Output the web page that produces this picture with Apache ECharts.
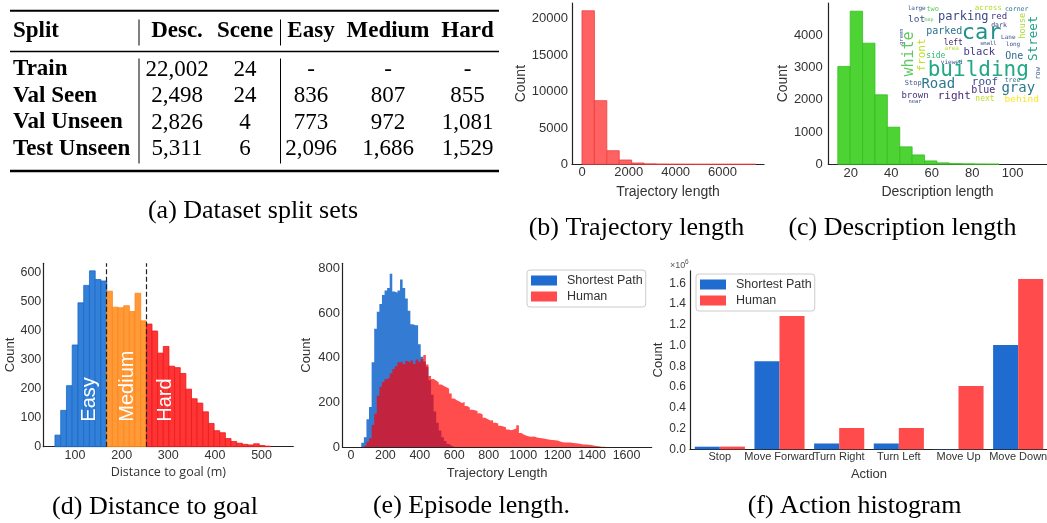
<!DOCTYPE html>
<html>
<head>
<meta charset="utf-8">
<script src="https://cdn.jsdelivr.net/npm/echarts@6/dist/echarts.min.js"></script>
<style>
  html, body { margin: 0; padding: 0; background: #fff; }
  #chart { width: 1047px; height: 523px; }
</style>
</head>
<body>
<div id="chart"></div>
<script>
// (a) dataset split sets
const tableHeader = ['Split', 'Desc.', 'Scene', 'Easy', 'Medium', 'Hard'];
const tableRows = [
  ['Train', '22,002', '24', '-', '-', '-'],
  ['Val Seen', '2,498', '24', '836', '807', '855'],
  ['Val Unseen', '2,826', '4', '773', '972', '1,081'],
  ['Test Unseen', '5,311', '6', '2,096', '1,686', '1,529']
];

// (b) trajectory length
const trajBinStart = 0;
const trajBinWidth = 530;
const trajCounts = [21100, 8750, 1870, 590, 180, 60, 25, 12, 8, 5, 3, 2, 1, 1];
const trajTicks = [0, 2000, 4000, 6000];
const trajCountTicks = [0, 5000, 10000, 15000, 20000];

// (c) description length
const descBinStart = 13.6;
const descBinWidth = 6.12;
const descCounts = [3030, 4740, 3750, 2150, 1150, 540, 290, 105, 45, 22, 15, 10, 8];
const descTicks = [20, 40, 60, 80, 100];
const descCountTicks = [0, 1000, 2000, 3000, 4000];

// (d) distance to goal, split by difficulty
const difficultyCuts = [168, 253];
const easyBinStart = 57;
const easyBinWidth = 12.33;
const easyCounts = [40, 125, 210, 350, 495, 555, 605, 575, 570];
const mediumBinStart = 168;
const mediumBinWidth = 12.14;
const mediumCounts = [535, 480, 478, 485, 465, 528, 433];
const hardBinStart = 253;
const hardBinWidth = 12.1;
const hardCounts = [422, 398, 322, 345, 277, 272, 252, 198, 165, 150, 120, 80, 55, 48, 28, 18, 12, 8, 6, 10, 4, 2];
const distTicks = [100, 200, 300, 400, 500];
const distCountTicks = [0, 100, 200, 300, 400, 500, 600];

// (e) episode length
const episodeBinStart = 60;
const episodeBinWidth = 15;
const shortestEpisode = [
  20, 45, 125, 180, 380, 530, 605, 640, 680, 700,
  712, 775, 696, 690, 700, 750, 712, 665, 610, 550,
  545, 545, 460, 405, 383, 360, 300, 235, 160, 110,
  75, 45, 28, 15, 7, 2
];
const humanEpisode = [
  3, 10, 25, 40, 100, 150, 230, 270, 292, 305,
  310, 330, 350, 362, 380, 383, 372, 385, 378, 388,
  372, 392, 382, 395, 412, 370, 318, 305, 298, 290,
  280, 274, 268, 262, 240, 218, 210, 205, 198, 202,
  185, 178, 168, 165, 162, 152, 147, 132, 125, 120,
  121, 110, 106, 96, 93, 90, 80, 76, 80, 84,
  98, 64, 56, 52, 48, 47, 48, 44, 42, 40,
  38, 36, 34, 33, 31, 30, 26, 23, 22, 21,
  21, 19, 18, 17, 15, 13, 12, 11, 10, 8,
  6, 5, 3, 3, 1, 1
];
const episodeTicks = [0, 200, 400, 600, 800, 1000, 1200, 1400, 1600];
const episodeCountTicks = [0, 200, 400, 600, 800];

// (f) action histogram, counts in millions
const actions = ['Stop', 'Move Forward', 'Turn Right', 'Turn Left', 'Move Up', 'Move Down'];
const shortestActions = [0.025, 0.848, 0.056, 0.056, 0.003, 1.005];
const humanActions = [0.026, 1.285, 0.205, 0.205, 0.61, 1.642];
const actionCountTicks = [0, 0.2, 0.4, 0.6, 0.8, 1.0, 1.2, 1.4, 1.6];

const SANS = 'Liberation Sans, Arial, sans-serif';
const SERIF = 'Liberation Serif, Times New Roman, serif';
const AXIS_COLOR = '#222';
const TEXT_COLOR = '#333';

function histBins(start, width, counts) {
  return counts.map((c, i) => [start + i * width, start + (i + 1) * width, c]);
}

function stepPoints(start, width, counts) {
  const pts = counts.map((c, i) => [start + i * width, c]);
  pts.push([start + counts.length * width, 0]);
  return pts;
}

function rectItem(fill, stroke) {
  return function (params, api) {
    const topLeft = api.coord([api.value(0), api.value(2)]);
    const bottomRight = api.coord([api.value(1), 0]);
    return {
      type: 'rect',
      shape: {
        x: topLeft[0],
        y: topLeft[1],
        width: bottomRight[0] - topLeft[0],
        height: bottomRight[1] - topLeft[1]
      },
      style: { fill: fill, stroke: stroke, lineWidth: 0.8 }
    };
  };
}

function histSeries(gridIndex, bins, fill, stroke) {
  return {
    type: 'custom',
    xAxisIndex: gridIndex,
    yAxisIndex: gridIndex,
    data: bins,
    encode: { x: [0, 1], y: 2 },
    renderItem: rectItem(fill, stroke),
    silent: true
  };
}

function valueAxis(gridIndex, min, max, ticks, o) {
  return {
    type: 'value',
    gridIndex: gridIndex,
    min: min,
    max: max,
    axisLine: { show: true, onZero: false, lineStyle: { color: AXIS_COLOR, width: 1.2 } },
    axisTick: { show: false },
    splitLine: { show: false },
    axisLabel: {
      customValues: ticks,
      margin: o.margin,
      fontSize: o.fontSize,
      color: TEXT_COLOR,
      fontFamily: SANS,
      formatter: o.formatter || (v => String(v))
    },
    name: o.name,
    nameLocation: 'middle',
    nameGap: o.nameGap,
    nameTextStyle: { fontSize: o.nameSize, color: TEXT_COLOR, fontFamily: o.nameFont || SANS }
  };
}

const chart = echarts.init(document.getElementById('chart'));

const graphics = [];

// table (a)
const tableColX = [13, 177, 245, 311, 388, 467.5];
const headerY = 31;
const rowY = [69.5, 96, 122.5, 149];
function cellText(text, col, y, bold) {
  graphics.push({
    type: 'text', x: tableColX[col], y: y,
    style: {
      text: text, fill: '#000', fontSize: 23, fontFamily: SERIF,
      fontWeight: bold ? 'bold' : 'normal',
      align: col === 0 ? 'left' : 'center', verticalAlign: 'middle'
    }
  });
}
tableHeader.forEach((h, c) => cellText(h, c, headerY, true));
tableRows.forEach((row, r) => row.forEach((v, c) => cellText(v, c, rowY[r], c === 0)));
function rule(x1, y1, x2, y2, w) {
  graphics.push({ type: 'line', shape: { x1, y1, x2, y2 }, style: { stroke: '#000', lineWidth: w } });
}
rule(10, 10.7, 499, 10.7, 2);
rule(10, 51.5, 499, 51.5, 1.3);
rule(10, 171, 499, 171, 2.4);
rule(139, 19.5, 139, 45.5, 1);
rule(280.5, 19.5, 280.5, 45.5, 1);
rule(139, 58.5, 139, 163.5, 1);
rule(280.5, 58.5, 280.5, 163.5, 1);

// captions
const captions = [
  ['(a) Dataset split sets', 253, 211],
  ['(b) Trajectory length', 636.5, 228],
  ['(c) Description length', 902.5, 228],
  ['(d) Distance to goal', 155, 507],
  ['(e) Episode length.', 471.5, 506.5],
  ['(f) Action histogram', 854.5, 506.5]
];
captions.forEach(c => graphics.push({
  type: 'text', x: c[1], y: c[2],
  style: { text: c[0], fill: '#000', fontSize: 26, fontFamily: SERIF, align: 'center', verticalAlign: 'middle' }
}));

// word cloud inset in (c)
const cloudWords = [
  ['large', 916.7, 8.5, 6, '#3b528b', 0], ['two', 932.7, 9, 7, '#5ec962', 0],
  ['across', 988.3, 8.3, 7.5, '#b5de2b', 0], ['corner', 1016.7, 9, 6.5, '#2c728e', 0],
  ['parking', 963.3, 16.7, 12, '#3e4989', 0], ['red', 999, 17, 9, '#46337e', 0],
  ['lot', 916.7, 20, 9.5, '#3b528b', 0], ['map', 929, 20, 5, '#5ec962', 0],
  ['dark', 999, 25, 6.5, '#414487', 0], ['parked', 944.2, 31.7, 10, '#2c728e', 0],
  ['car', 981.7, 33.3, 22, '#21918c', 0], ['house', 1022.5, 25.8, 8.5, '#addc30', 1],
  ['Street', 1033.3, 38.3, 12.5, '#1f9e89', 1], ['white', 909.2, 54, 15, '#5ec962', 1],
  ['front', 921.7, 55, 11, '#c2df23', 1], ['green', 901.7, 36.7, 5.5, '#3b528b', 1],
  ['Lane', 1008.3, 37.3, 6, '#3b528b', 0], ['left', 953.3, 42.7, 8, '#482878', 0],
  ['small', 988.3, 44, 5.5, '#3b528b', 0], ['long', 1013, 44, 6, '#3b528b', 0],
  ['area', 951.7, 48.3, 6, '#b5de2b', 0], ['black', 979.2, 52.7, 10.5, '#443983', 0],
  ['One', 1014.2, 56, 10, '#31688e', 0], ['side', 935.8, 56, 8, '#35b779', 0],
  ['viewed', 951.7, 62.3, 6, '#3b528b', 0], ['building', 978.3, 70.7, 21, '#22a884', 0],
  ['row', 1038.3, 73.3, 7, '#3b528b', 1], ['tree', 1012.5, 80, 6.5, '#2c728e', 0],
  ['roof', 985, 81.7, 11, '#3b528b', 0], ['Road', 938.3, 84.3, 14, '#2a788e', 0],
  ['Stop', 913.3, 83.3, 7, '#3b528b', 0], ['gray', 1018.3, 88.3, 14, '#2a788e', 0],
  ['blue', 983.3, 90.7, 10, '#472d7b', 0], ['brown', 915, 95.7, 9, '#46327e', 0],
  ['right', 954.2, 96, 11, '#482878', 0], ['next', 985, 99.3, 8, '#bddf26', 0],
  ['behind', 1021.7, 99.3, 9.5, '#fde725', 0], ['near', 915, 101.7, 5.5, '#3b528b', 0]
];
cloudWords.forEach(w => graphics.push({
  type: 'text', x: w[1], y: w[2], rotation: w[5] ? Math.PI / 2 : 0, z: 50,
  style: { text: w[0], fill: w[4], fontSize: w[3], fontFamily: 'DejaVu Sans Mono, monospace', align: 'center', verticalAlign: 'middle' }
}));

// difficulty labels in (d)
[['Easy', 89], ['Medium', 127], ['Hard', 165]].forEach(l => graphics.push({
  type: 'text', x: l[1], y: 421.7, rotation: Math.PI / 2, z: 50,
  style: { text: l[0], fill: '#fff', fontSize: 20, fontFamily: SANS, align: 'left', verticalAlign: 'middle' }
}));

// axis multiplier in (f)
graphics.push({ type: 'text', x: 670, y: 266, style: { text: '×10', fill: '#555', fontSize: 9, fontFamily: SANS, align: 'left', verticalAlign: 'middle' } });
graphics.push({ type: 'text', x: 685, y: 262, style: { text: '6', fill: '#555', fontSize: 6.5, fontFamily: SANS, align: 'left', verticalAlign: 'middle' } });

const legendBase = {
  orient: 'vertical',
  icon: 'rect',
  itemWidth: 26,
  itemHeight: 10,
  itemGap: 3,
  padding: [4, 3, 4, 4],
  borderColor: '#cccccc',
  borderWidth: 1,
  borderRadius: 3,
  selectedMode: false,
  textStyle: { fontSize: 12.5, color: TEXT_COLOR, fontFamily: SANS, padding: [0, 0, 0, 5] },
  data: [
    { name: 'Shortest Path', itemStyle: { color: '#1f6bcf' } },
    { name: 'Human', itemStyle: { color: '#ff4b4b' } }
  ]
};

const option = {
  animation: false,
  backgroundColor: '#fff',
  textStyle: { fontFamily: SANS },
  graphic: graphics,
  legend: [
    Object.assign({}, legendBase, { left: 527, top: 270 }),
    Object.assign({}, legendBase, { left: 696, top: 274 })
  ],
  grid: [
    { left: 572, top: 3, width: 192, height: 161.3, outerBoundsMode: 'none' },
    { left: 828.3, top: 3, width: 218.4, height: 161.3, outerBoundsMode: 'none' },
    { left: 43.3, top: 263.3, width: 250, height: 183.4, outerBoundsMode: 'none' },
    { left: 342.5, top: 263.3, width: 309.2, height: 184, outerBoundsMode: 'none' },
    { left: 690, top: 270.8, width: 358, height: 178.5, outerBoundsMode: 'none' }
  ],
  xAxis: [
    valueAxis(0, -427, 7774, trajTicks, { margin: 2, fontSize: 13, name: 'Trajectory length', nameGap: 21, nameSize: 14 }),
    valueAxis(1, 8.9, 116.8, descTicks, { margin: 3, fontSize: 13, name: 'Description length', nameGap: 21, nameSize: 14 }),
    valueAxis(2, 32, 568, distTicks, { margin: 2, fontSize: 12.5, name: 'Distance to goal (m)', nameGap: 19.5, nameSize: 12.5, nameFont: 'Open Sans, sans-serif' }),
    valueAxis(3, -49, 1746, episodeTicks, { margin: 2, fontSize: 12.5, name: 'Trajectory Length', nameGap: 19.5, nameSize: 13 }),
    {
      type: 'category',
      gridIndex: 4,
      data: actions,
      axisLine: { show: true, lineStyle: { color: AXIS_COLOR, width: 1.2 } },
      axisTick: { show: false },
      axisLabel: { interval: 0, margin: 2, fontSize: 11, color: TEXT_COLOR, fontFamily: SANS },
      name: 'Action',
      nameLocation: 'middle',
      nameGap: 19,
      nameTextStyle: { fontSize: 13, color: TEXT_COLOR, fontFamily: SANS }
    }
  ],
  yAxis: [
    valueAxis(0, 0, 22170, trajCountTicks, { margin: 4, fontSize: 13, name: 'Count', nameGap: 34, nameSize: 14 }),
    valueAxis(1, 0, 4994, descCountTicks, { margin: 5.5, fontSize: 13, name: 'Count', nameGap: 33, nameSize: 14 }),
    valueAxis(2, 0, 631, distCountTicks, { margin: 2, fontSize: 12.5, name: 'Count', nameGap: 25, nameSize: 13 }),
    valueAxis(3, 0, 822, episodeCountTicks, { margin: 2.5, fontSize: 13, name: 'Count', nameGap: 30, nameSize: 13 }),
    valueAxis(4, 0, 1.72, actionCountTicks, { margin: 4, fontSize: 12, name: 'Count', nameGap: 23, nameSize: 13, formatter: v => v.toFixed(1) })
  ],
  series: [
    {
      name: 'Shortest Path', type: 'bar', xAxisIndex: 4, yAxisIndex: 4,
      data: shortestActions, itemStyle: { color: '#1f6bcf' },
      barGap: '0%', barCategoryGap: '16%', silent: true
    },
    {
      name: 'Human', type: 'bar', xAxisIndex: 4, yAxisIndex: 4,
      data: humanActions, itemStyle: { color: '#ff4b4b' },
      barGap: '0%', barCategoryGap: '16%', silent: true
    },
    histSeries(0, histBins(trajBinStart, trajBinWidth, trajCounts), '#ff6262', '#f03c3c'),
    histSeries(1, histBins(descBinStart, descBinWidth, descCounts), '#4dd333', '#33bf1f'),
    histSeries(2, histBins(easyBinStart, easyBinWidth, easyCounts), '#3380d8', '#1a68c8'),
    histSeries(2, histBins(mediumBinStart, mediumBinWidth, mediumCounts), '#ff9a38', '#ff8418'),
    Object.assign(histSeries(2, histBins(hardBinStart, hardBinWidth, hardCounts), '#ff3434', '#ea1a1a'), {
      markLine: {
        silent: true,
        symbol: 'none',
        label: { show: false },
        lineStyle: { type: [5, 2.5], color: '#222', width: 1.2 },
        data: difficultyCuts.map(v => ({ xAxis: v }))
      }
    }),
    {
      name: 'Shortest Path', type: 'line', xAxisIndex: 3, yAxisIndex: 3,
      data: stepPoints(episodeBinStart, episodeBinWidth, shortestEpisode),
      step: 'end', showSymbol: false, symbol: 'none',
      lineStyle: { width: 0, opacity: 0 },
      areaStyle: { color: 'rgba(0,90,200,0.8)', opacity: 1 },
      silent: true
    },
    {
      name: 'Human', type: 'line', xAxisIndex: 3, yAxisIndex: 3,
      data: stepPoints(episodeBinStart, episodeBinWidth, humanEpisode),
      step: 'end', showSymbol: false, symbol: 'none',
      lineStyle: { width: 0, opacity: 0 },
      areaStyle: { color: 'rgba(255,0,0,0.7)', opacity: 1 },
      silent: true
    }
  ]
};

chart.setOption(option);
</script>
</body>
</html>
